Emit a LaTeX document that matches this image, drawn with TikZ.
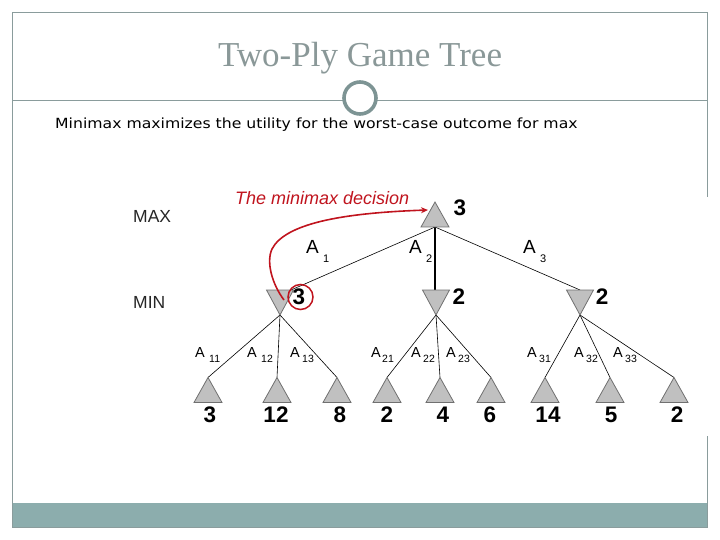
\documentclass[tikz,border=0pt]{standalone}
\usepackage{fontspec}
\setmainfont{Liberation Serif}
\setsansfont{Liberation Sans}
\newfontfamily\verd{DejaVu Sans}
\usetikzlibrary{arrows.meta}
\definecolor{framec}{HTML}{8A9C9C}
\definecolor{barc}{HTML}{8CADAD}
\definecolor{titlec}{HTML}{8A9898}
\definecolor{ringc}{HTML}{7D9494}
\definecolor{trif}{HTML}{C0C0C0}
\definecolor{trid}{HTML}{707070}
\definecolor{redc}{HTML}{C0141E}
\tikzset{
  trifill/.style={fill=trif,draw=trid,line width=0.8pt},
  uptri/.pic={\path[trifill] (0,0) -- (-14,25) -- (14,25) -- cycle; \coordinate (-apex) at (0,0); \coordinate (-base) at (0,25);},
  dntri/.pic={\path[trifill] (0,0) -- (-13.5,-25) -- (13.5,-25) -- cycle; \coordinate (-apex) at (0,0); \coordinate (-top) at (0,-25);},
  edge/.style={line width=0.6pt,black},
  val/.style={font=\sffamily\bfseries\fontsize{22.5}{22.5}\selectfont,inner sep=0pt},
  lvl/.style={font=\sffamily\fontsize{17.5}{17.5}\selectfont,inner sep=0pt,text=black!85},
  act/.style={font=\sffamily\fontsize{19}{19}\selectfont,inner sep=0pt,anchor=base west},
  sub/.style={font=\sffamily\fontsize{11}{11}\selectfont,inner sep=0pt,anchor=base west},
  lact/.style={font=\sffamily\fontsize{14.5}{14.5}\selectfont,inner sep=0pt,anchor=base west},
  lsub/.style={font=\sffamily\fontsize{10.5}{10.5}\selectfont,inner sep=0pt,anchor=base west}
}
\begin{document}
\begin{tikzpicture}[x=1pt,y=-1pt]
\useasboundingbox (0,0) rectangle (720,540);
% frame
\fill[barc] (12,503) rectangle (708,527);
\draw[framec,line width=0.8pt] (707.5,197) -- (707.5,12.5) -- (12.5,12.5) -- (12.5,527) -- (707.5,527) -- (707.5,436);
\draw[framec,line width=0.8pt] (12.5,100) -- (707.5,100);
\node[circle,draw=ringc,fill=white,line width=3.6pt,minimum size=32pt,inner sep=0pt] (ring) at (360,98) {};
\node[font=\fontsize{35}{35}\selectfont,text=titlec,inner sep=0pt,anchor=base] (title) at (360,67) {Two-Ply Game Tree};
\node[anchor=base west,inner sep=0pt] (sub) at (55,128.5) {\scalebox{1.12}[1]{\verd\fontsize{14}{14}\selectfont Minimax maximizes the utility for the worst-case outcome for max}};
% level labels
\node[lvl,anchor=west] (max) at (133,216) {MAX};
\node[lvl,anchor=west] (min) at (133,302.5) {MIN};
% coordinates
\coordinate (r) at (435,202);
\coordinate (m1) at (280,315);
\coordinate (m2) at (436,315);
\coordinate (m3) at (580,315);
\coordinate (rb) at (435,227);
\coordinate (m1t) at (291,290);
\coordinate (m2t) at (435,290);
\coordinate (m3t) at (580,290);
\foreach \n/\x in {l1/208,l2/277,l3/337,l4/387,l5/440,l6/491,l7/545,l8/610,l9/674}
  \coordinate (\n) at (\x,377.5);
% edges
\draw[edge] (rb) -- (m1t);
\draw[line width=1.6pt] (rb) -- (m2t);
\draw[edge] (rb) -- (m3t);
\foreach \l in {l1,l2,l3} \draw[edge] (m1) -- (\l);
\foreach \l in {l4,l5,l6} \draw[edge] (m2) -- (\l);
\foreach \l in {l7,l8,l9} \draw[edge] (m3) -- (\l);
% triangles
\pic (R) at (r) {uptri};
\pic (M1) at (m1) {dntri};
\pic (M2) at (m2) {dntri};
\pic (M3) at (m3) {dntri};
\foreach \l in {l1,l2,l3,l4,l5,l6,l7,l8,l9} \pic (T\l) at (\l) {uptri};
% values
\node[val] (vr) at (460,208) {3};
\node[val] (v1) at (299,297) {3};
\node[val] (v2) at (459,297) {2};
\node[val] (v3) at (602,297) {2};
\foreach \n/\x/\v in {a/210/3,b/276/12,c/340/8,d/387/2,e/443/4,f/490/6,g/548/14,h/611/5,i/677/2}
  \node[val] (v\n) at (\x,415) {\v};
% action labels
\node[act] (A1) at (306,254) {A}; \node[sub] (s1) at (323,262) {1};
\node[act] (A2) at (409,254) {A}; \node[sub] (s2) at (426,262) {2};
\node[act] (A3) at (523,254) {A}; \node[sub] (s3) at (540,262) {3};
\foreach \x/\sx/\s in {195/209/11,247/261/12,290/302/13,371/382/21,411/423/22,446/458/23,527/539/31,574/586/32,613/625/33}
  {\node[lact] at (\x,357) {A}; \node[lsub] at (\sx,362) {\s};}
% decision
\node[circle,draw=redc,line width=1.5pt,minimum size=25pt,inner sep=0pt] (rc) at (300.5,297) {};
\node[font=\sffamily\itshape\fontsize{18}{18}\selectfont,text=redc,anchor=base west,inner sep=0pt] (dec) at (235,205) {The minimax decision};
\draw[redc,line width=1.6pt,-{Stealth[length=7pt,width=6pt]}] (284,300) .. controls (272,284) and (266,262) .. (272,249) .. controls (285,224) and (340,213) .. (428,210);
\end{tikzpicture}
\end{document}
